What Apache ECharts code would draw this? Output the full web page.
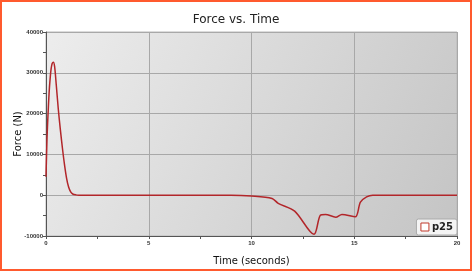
<!DOCTYPE html>
<html>
<head>
<meta charset="utf-8">
<script src="https://cdn.jsdelivr.net/npm/echarts@6/dist/echarts.min.js"></script>
<style>
html,body{margin:0;padding:0;background:#fff;}
#main{width:468px;height:267px;border:2px solid #ff5a2e;}
</style>
</head>
<body>
<div id="main"></div>
<script>
// Force vs. Time, series p25
var times = [0, 0.05, 0.1, 0.15, 0.2, 0.25, 0.3, 0.36, 0.42, 0.5, 0.6, 0.7, 0.8, 0.9, 1.0, 1.1, 1.2, 1.3, 1.45, 1.6, 2, 5, 9, 10, 11, 11.3, 12.1, 13.04, 13.35, 13.6, 14.1, 14.4, 15.05, 15.3, 15.6, 15.9, 16.5, 20];
var force = [4500, 14000, 20000, 25000, 28500, 31000, 32300, 32600, 31500, 27000, 21000, 16000, 11500, 7500, 4200, 2000, 800, 300, 80, 0, 0, 0, 0, -200, -800, -2000, -3900, -9600, -4900, -4700, -5400, -4700, -5300, -1700, -400, 0, 0, 0];
var seriesName = 'p25';

var points = times.map(function (t, i) { return [t, force[i]]; });

var chart = echarts.init(document.getElementById('main'));
chart.setOption({
    animation: false,
    title: {
        text: 'Force vs. Time',
        left: 'center',
        top: 7,
        textStyle: { fontFamily: 'DejaVu Sans', fontSize: 12, fontWeight: 'normal', color: '#222' }
    },
    legend: {
        right: 13,
        bottom: 34,
        data: [seriesName],
        icon: 'rect',
        itemWidth: 8,
        itemHeight: 8,
        itemGap: 4,
        padding: [3, 4, 3, 4],
        backgroundColor: '#f4f4f4',
        borderColor: '#aaa',
        borderWidth: 1,
        borderRadius: 2,
        textStyle: { fontFamily: 'DejaVu Sans', fontSize: 10, fontWeight: 'bold', color: '#222', padding: [0, 0, 0, -2] },
        itemStyle: { color: '#fff', borderColor: '#c0392b', borderWidth: 1 }
    },
    grid: {
        left: 44,
        right: 13,
        top: 30,
        bottom: 33,
        outerBoundsMode: 'none',
        containLabel: false,
        show: true,
        borderColor: '#b8b8b8',
        borderWidth: 1,
        backgroundColor: new echarts.graphic.LinearGradient(0, 0, 1, 1, [
            { offset: 0, color: '#ededed' },
            { offset: 1, color: '#c4c4c4' }
        ])
    },
    xAxis: {
        type: 'value',
        min: 0,
        max: 20,
        interval: 5,
        name: 'Time (seconds)',
        nameLocation: 'middle',
        nameGap: 20,
        nameMoveOverlap: false,
        nameTextStyle: { fontFamily: 'DejaVu Sans', fontSize: 10, color: '#111' },
        axisLine: { onZero: false, lineStyle: { color: '#555' } },
        axisTick: { length: 3, lineStyle: { color: '#555' } },
        minorTick: { show: true, splitNumber: 2, length: 3, lineStyle: { color: '#555' } },
        axisLabel: { fontFamily: 'Liberation Sans', fontSize: 6, fontWeight: 'bold', color: '#333', margin: 4 },
        splitLine: { lineStyle: { color: '#a8a8a8' } }
    },
    yAxis: {
        type: 'value',
        min: -10000,
        max: 40000,
        interval: 10000,
        name: 'Force (N)',
        nameLocation: 'middle',
        nameGap: 23,
        nameMoveOverlap: false,
        nameTextStyle: { fontFamily: 'DejaVu Sans', fontSize: 10, color: '#111' },
        axisLine: { show: true, lineStyle: { color: '#555' } },
        axisTick: { show: true, length: 3, lineStyle: { color: '#555' } },
        minorTick: { show: true, splitNumber: 2, length: 3, lineStyle: { color: '#555' } },
        axisLabel: {
            fontFamily: 'Liberation Sans', fontSize: 6, fontWeight: 'bold', color: '#333', margin: 3,
            formatter: function (v) { return String(v); }
        },
        splitLine: { lineStyle: { color: '#a8a8a8' } }
    },
    series: [{
        name: seriesName,
        type: 'line',
        data: points,
        smooth: 0.3,
        showSymbol: false,
        lineStyle: { color: '#b2262a', width: 1.5 },
        itemStyle: { color: '#b2262a' }
    }]
});
</script>
</body>
</html>
